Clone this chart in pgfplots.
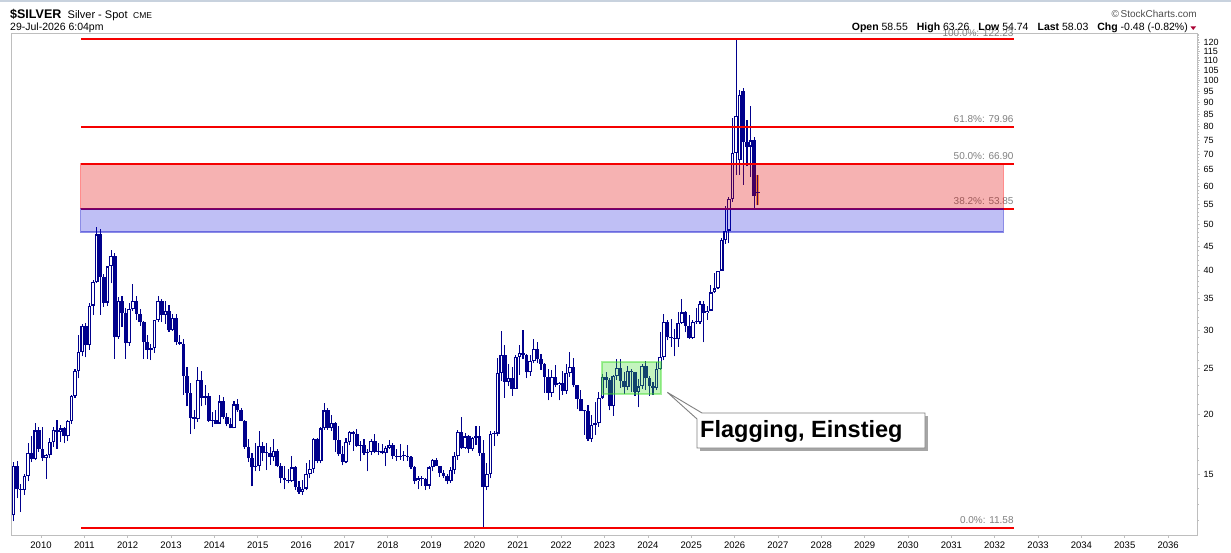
\documentclass[border=0pt]{standalone}
\usepackage{pgfplots}
\pgfplotsset{compat=1.18}
\usepackage{pgfplotstable}
\usepackage{fontspec}
\setmainfont{Liberation Sans}
\definecolor{cnavy}{RGB}{0,0,140}
\definecolor{fibred}{RGB}{245,0,0}
\definecolor{pinkfill}{RGB}{225,0,0}
\definecolor{bluefill}{RGB}{0,0,215}
\definecolor{bluedraw}{RGB}{0,0,200}
\definecolor{greenfill}{RGB}{60,220,40}
\definecolor{framegray}{RGB}{190,190,190}
\definecolor{labgray}{RGB}{128,128,128}
\definecolor{orangehl}{RGB}{255,160,40}
\definecolor{topborder}{RGB}{200,210,222}
\definecolor{tri}{RGB}{170,0,50}

\pgfplotstableread{
Y m o h l c
2009 5 12.30 15.90 11.95 15.61
2009 6 15.61 16.00 13.35 13.94
2009 7 13.94 14.30 12.50 13.92
2009 8 13.92 15.00 13.60 14.87
2009 9 14.87 17.45 14.50 16.64
2009 10 16.64 18.00 15.90 16.15
2009 11 16.15 19.18 16.05 18.53
2009 12 18.53 18.80 16.70 16.95
2010 1 16.95 18.85 16.00 16.20
2010 2 16.20 16.55 14.65 16.43
2010 3 16.43 17.88 16.20 17.53
2010 4 17.53 18.80 17.10 18.60
2010 5 18.60 19.50 16.95 18.40
2010 6 18.40 19.00 17.50 18.70
2010 7 18.70 18.85 17.40 18.00
2010 8 18.00 19.50 17.60 19.40
2010 9 19.40 21.95 19.15 21.90
2010 10 21.90 24.85 21.70 24.70
2010 11 24.70 29.30 23.80 27.00
2010 12 27.00 31.00 26.45 30.60
2011 1 30.60 31.05 26.35 27.95
2011 2 27.95 34.15 27.30 33.80
2011 3 33.80 38.20 32.30 37.90
2011 4 37.90 49.30 37.75 47.60
2011 5 47.60 48.80 32.35 38.80
2011 6 38.80 39.40 33.55 34.30
2011 7 34.30 40.70 33.70 40.80
2011 8 40.80 44.25 37.60 42.90
2011 9 42.90 43.45 26.15 29.00
2011 10 29.00 35.25 28.80 34.50
2011 11 34.50 35.40 30.50 32.60
2011 12 32.60 33.40 26.15 28.20
2012 1 28.20 34.15 27.85 33.20
2012 2 33.20 37.50 33.00 34.60
2012 3 34.60 35.35 31.60 32.50
2012 4 32.50 33.20 30.60 31.20
2012 5 31.20 31.45 26.10 28.35
2012 6 28.35 29.30 26.10 27.30
2012 7 27.30 28.15 26.00 27.60
2012 8 27.60 31.60 26.90 31.50
2012 9 31.50 35.40 31.20 34.60
2012 10 34.60 34.95 31.20 32.30
2012 11 32.30 34.50 31.00 33.00
2012 12 33.00 33.85 29.80 30.00
2013 1 30.00 32.50 29.90 31.80
2013 2 31.80 32.45 28.00 28.30
2013 3 28.30 29.30 28.00 28.10
2013 4 28.10 28.80 22.00 24.10
2013 5 24.10 25.10 20.80 22.20
2013 6 22.20 23.30 18.20 19.70
2013 7 19.70 20.40 18.65 19.60
2013 8 19.60 25.10 19.30 23.60
2013 9 23.60 24.70 20.80 21.70
2013 10 21.70 23.10 20.90 21.90
2013 11 21.90 22.20 19.30 19.40
2013 12 19.40 20.20 18.85 19.45
2014 1 19.45 20.40 19.10 19.15
2014 2 19.15 22.00 19.10 21.30
2014 3 21.30 21.80 19.55 19.75
2014 4 19.75 20.15 18.90 19.10
2014 5 19.10 19.70 18.70 18.70
2014 6 18.70 21.35 18.70 21.00
2014 7 21.00 21.60 20.25 20.40
2014 8 20.40 20.65 19.35 19.40
2014 9 19.40 19.50 16.95 17.10
2014 10 17.10 17.80 15.90 16.20
2014 11 16.20 16.60 14.15 15.50
2014 12 15.50 17.40 15.20 15.60
2015 1 15.60 18.50 15.25 17.20
2015 2 17.20 17.50 16.00 16.60
2015 3 16.60 17.40 15.30 16.60
2015 4 16.60 17.10 15.70 16.30
2015 5 16.30 17.80 16.00 16.80
2015 6 16.80 16.90 15.50 15.60
2015 7 15.60 15.80 14.35 14.70
2015 8 14.70 15.60 13.95 14.60
2015 9 14.60 15.40 14.35 14.50
2015 10 14.50 16.35 14.45 15.50
2015 11 15.50 15.60 13.90 14.10
2015 12 14.10 14.50 13.65 13.80
2016 1 13.80 14.60 13.60 14.00
2016 2 14.00 15.80 13.90 15.00
2016 3 15.00 16.05 14.70 15.40
2016 4 15.40 17.85 15.10 17.80
2016 5 17.80 17.85 15.80 16.00
2016 6 16.00 18.80 15.80 18.70
2016 7 18.70 21.15 18.60 20.40
2016 8 20.40 20.60 18.60 18.70
2016 9 18.70 20.00 18.50 19.20
2016 10 19.20 19.30 16.70 17.70
2016 11 17.70 18.90 16.40 16.50
2016 12 16.50 17.20 15.65 15.90
2017 1 15.90 17.90 15.80 17.50
2017 2 17.50 18.50 17.30 18.40
2017 3 18.40 18.50 16.80 18.20
2017 4 18.20 18.65 17.10 17.20
2017 5 17.20 17.60 15.95 17.30
2017 6 17.30 17.80 16.45 16.60
2017 7 16.60 16.90 15.20 16.70
2017 8 16.70 17.80 16.45 17.60
2017 9 17.60 18.20 16.60 16.70
2017 10 16.70 17.40 16.45 16.75
2017 11 16.75 17.35 16.50 16.60
2017 12 16.60 17.15 15.60 17.00
2018 1 17.00 17.70 16.90 17.30
2018 2 17.30 17.40 16.15 16.40
2018 3 16.40 16.90 16.00 16.30
2018 4 16.30 17.35 16.10 16.35
2018 5 16.35 16.75 16.00 16.40
2018 6 16.40 17.30 16.00 16.30
2018 7 16.30 16.40 15.35 15.50
2018 8 15.50 15.60 14.30 14.50
2018 9 14.50 14.85 13.95 14.70
2018 10 14.70 14.85 14.20 14.65
2018 11 14.65 14.75 13.90 14.20
2018 12 14.20 15.60 14.00 15.50
2019 1 15.50 16.15 15.20 16.10
2019 2 16.10 16.20 15.60 15.60
2019 3 15.60 15.60 14.80 15.10
2019 4 15.10 15.30 14.70 14.90
2019 5 14.90 15.00 14.30 14.50
2019 6 14.50 15.50 14.40 15.30
2019 7 15.30 16.70 15.00 16.40
2019 8 16.40 18.60 16.10 18.40
2019 9 18.40 19.75 16.90 17.00
2019 10 17.00 18.30 16.95 18.00
2019 11 18.00 18.10 16.60 16.90
2019 12 16.90 17.95 16.80 17.90
2020 1 17.90 18.90 17.30 18.00
2020 2 18.00 18.95 16.40 16.60
2020 3 16.60 17.70 11.58 14.10
2020 4 14.10 15.80 13.90 15.00
2020 5 15.00 18.50 14.70 18.20
2020 6 18.20 18.50 17.20 18.25
2020 7 18.25 26.20 18.00 24.40
2020 8 24.40 29.85 23.50 26.70
2020 9 26.70 28.00 21.70 23.40
2020 10 23.40 25.55 22.90 23.90
2020 11 23.90 25.20 21.90 22.60
2020 12 22.60 26.70 22.60 26.40
2021 1 26.40 27.90 24.20 26.90
2021 2 26.90 30.10 26.10 26.70
2021 3 26.70 26.80 23.80 24.50
2021 4 24.50 26.60 24.10 25.90
2021 5 25.90 28.75 25.60 27.40
2021 6 27.40 28.30 25.60 26.10
2021 7 26.10 26.80 24.80 25.50
2021 8 25.50 25.60 22.20 24.00
2021 9 24.00 24.90 21.40 22.20
2021 10 22.20 24.80 21.80 24.00
2021 11 24.00 25.40 22.80 23.00
2021 12 23.00 23.40 21.40 23.30
2022 1 23.30 24.70 22.00 22.40
2022 2 22.40 25.50 22.10 24.40
2022 3 24.40 27.00 24.00 25.10
2022 4 25.10 26.20 22.80 23.00
2022 5 23.00 23.00 20.50 21.60
2022 6 21.60 22.50 20.40 20.30
2022 7 20.30 20.40 18.15 20.35
2022 8 20.35 20.90 17.60 17.80
2022 9 17.80 20.00 17.55 19.00
2022 10 19.00 21.25 18.10 19.20
2022 11 19.20 22.25 18.85 21.70
2022 12 21.70 24.30 21.60 24.00
2023 1 24.00 24.55 22.75 23.60
2023 2 23.60 23.85 20.40 20.80
2023 3 20.80 24.20 19.90 24.10
2023 4 24.10 26.10 23.60 25.00
2023 5 25.00 26.15 22.70 23.50
2023 6 23.50 24.50 22.10 22.80
2023 7 22.80 25.25 22.50 24.70
2023 8 24.70 24.90 22.25 24.50
2023 9 24.50 24.60 21.90 22.30
2023 10 22.30 23.70 20.70 22.90
2023 11 22.90 25.50 22.60 25.30
2023 12 25.30 25.90 22.50 23.80
2024 1 23.80 24.10 21.90 22.90
2024 2 22.90 23.35 21.95 22.70
2024 3 22.70 25.80 22.50 24.90
2024 4 24.90 29.80 24.80 26.40
2024 5 26.40 32.50 26.00 31.30
2024 6 31.30 31.50 28.60 29.10
2024 7 29.10 31.75 27.70 28.90
2024 8 28.90 30.20 26.45 28.80
2024 9 28.80 32.70 27.70 31.10
2024 10 31.10 34.90 31.00 32.70
2024 11 32.70 33.00 29.70 30.60
2024 12 30.60 32.30 28.75 28.90
2025 1 28.90 31.60 28.80 31.30
2025 2 31.30 33.40 31.00 31.20
2025 3 31.20 34.60 30.90 34.10
2025 4 34.10 34.60 28.30 32.60
2025 5 32.60 33.70 31.60 33.00
2025 6 33.00 37.30 32.90 36.00
2025 7 36.00 39.50 35.90 36.70
2025 8 36.70 40.00 36.60 40.00
2025 9 40.00 46.90 40.00 46.40
2025 10 46.40 54.50 45.50 48.50
2025 11 48.50 57.00 45.60 56.40
2025 12 56.40 83.30 55.60 70.60
2026 1 70.60 121.50 63.40 84.20
2026 2 68.00 95.50 63.40 93.20
2026 3 95.00 96.40 60.50 74.40
2026 4 74.50 82.60 66.10 72.70
2026 5 72.70 88.30 62.80 74.90
2026 6 74.90 76.20 54.00 57.20
2026 7 58.55 63.26 54.74 58.03
}\silver

\begin{document}
\begin{tikzpicture}[x=1pt,y=1pt]
\useasboundingbox (0,0) rectangle (1231,552);
% top border
\draw[draw=topborder, line width=2pt] (0,551) -- (1231,551);
\begin{axis}[
  at={(11.7pt,17pt)}, anchor=south west,
  scale only axis, width=1185.3pt, height=502pt,
  xmin=2009.324, xmax=2036.667,
  ymode=log, ymin=11.194, ymax=125.64,
  clip mode=individual,
  axis line style={draw=framegray, line width=0.8pt},
  tick align=outside,
  major tick length=3pt, minor tick length=1.5pt,
  tick style={draw=framegray, line width=0.7pt},
  xtick pos=left, ytick pos=right,
  xtick={2010,2011,...,2036},
  minor x tick num=11,
  xticklabels={2010,2011,2012,2013,2014,2015,2016,2017,2018,2019,2020,2021,2022,2023,2024,2025,2026,2027,2028,2029,2030,2031,2032,2033,2034,2035,2036},
  ytick={15,20,25,30,35,40,45,50,55,60,65,70,75,80,85,90,95,100,105,110,115,120},
  yticklabels={15,20,25,30,35,40,45,50,55,60,65,70,75,80,85,90,95,100,105,110,115,120},
  minor ytick={12,13,...,125},
  yticklabel pos=right,
  xticklabel style={font=\fontsize{9.5}{10}\selectfont, text=black},
  yticklabel style={font=\fontsize{9}{10}\selectfont, text=black, anchor=west},
]
% last bar highlight
\fill[orangehl, fill opacity=0.8] (axis cs:2026.492,54.74) rectangle (axis cs:2026.572,63.26);
% wicks
\addplot[forget plot, draw=none, mark=none,
  error bars/.cd, y dir=plus, y explicit, error mark=none,
  error bar style={draw=cnavy, line width=1.1pt, solid}]
  table[x expr={\thisrow{Y}+(\thisrow{m}-1)/12+0.035}, y=l,
        y error plus expr={\thisrow{h}-\thisrow{l}}]{\silver};
% bodies
\addplot[forget plot, draw=none, mark=none,
  error bars/.cd, y dir=plus, y explicit, error mark=none,
  error bar style={draw=cnavy, line width=3.7pt, solid}]
  table[x expr={\thisrow{Y}+(\thisrow{m}-1)/12+0.035},
        y expr={min(\thisrow{o},\thisrow{c})},
        y error plus expr={max(abs(\thisrow{c}-\thisrow{o}),0.006*\thisrow{o})}]{\silver};
% hollow interiors (up candles)
\addplot[forget plot, draw=none, mark=none,
  error bars/.cd, y dir=plus, y explicit, error mark=none,
  error bar style={draw=white, line width=1.5pt, solid}]
  table[x expr={\thisrow{Y}+(\thisrow{m}-1)/12+0.035},
        y expr={\thisrow{o}*1.0055},
        y error plus expr={max(\thisrow{c}*0.9945-\thisrow{o}*1.0055,0)}]{\silver};

% level labels (under the zones)
\begin{scope}[every node/.style={anchor=base east, inner sep=0pt, text=labgray, font=\fontsize{10}{11}\selectfont}]
\node at (axis cs:2032.44,122.23) [yshift=2.7pt] {100.0\%: 122.23};
\node at (axis cs:2032.44,79.96) [yshift=4.3pt] {61.8\%: 79.96};
\node at (axis cs:2032.44,66.90) [yshift=4.3pt] {50.0\%: 66.90};
\node at (axis cs:2032.44,53.85) [yshift=4.3pt] {38.2\%: 53.85};
\node at (axis cs:2032.44,11.58) [yshift=4.3pt] {0.0\%: 11.58};
\end{scope}

% red zone
\filldraw[fill=pinkfill, fill opacity=0.30, draw=red, draw opacity=0.45, line width=1pt]
  (axis cs:2010.916,53.85) rectangle (axis cs:2032.198,66.90);
% Fibonacci lines
\begin{scope}[fibred, line width=1.8pt]
\draw (axis cs:2010.923,122.23) -- (axis cs:2032.438,122.23);
\draw (axis cs:2010.923,79.96) -- (axis cs:2032.438,79.96);
\draw (axis cs:2010.923,66.90) -- (axis cs:2032.438,66.90);
\draw (axis cs:2010.923,53.85) -- (axis cs:2032.438,53.85);
\draw (axis cs:2010.923,11.58) -- (axis cs:2032.438,11.58);
\end{scope}
% blue zone
\filldraw[fill=bluefill, fill opacity=0.25, draw=bluedraw, draw opacity=0.45, line width=1.3pt]
  (axis cs:2010.916,48.2) rectangle (axis cs:2032.198,53.85);
% green flag box
\filldraw[fill=greenfill, fill opacity=0.30, draw=greenfill, draw opacity=0.45, line width=1.5pt]
  (axis cs:2022.941,22.07) rectangle (axis cs:2024.302,25.75);
\end{axis}

% callout
\fill[black!35] (700,101) rectangle (928,136);
\filldraw[fill=white, draw=black!50, line width=0.9pt]
  (697,133) -- (667.3,159.7) -- (702,139) -- (925,139) -- (925,104) -- (697,104) -- cycle;
\node[anchor=base west, inner sep=0pt] at (700,114.7) {\fontsize{23.5}{26}\selectfont\bfseries Flagging, Einstieg};

% header left
\node[anchor=base west, inner sep=0pt] at (10,533) {\fontsize{12.5}{14}\selectfont\bfseries \$SILVER};
\node[anchor=base west, inner sep=0pt] at (67.5,533) {\fontsize{11}{13}\selectfont Silver - Spot};
\node[anchor=base west, inner sep=0pt] at (133,533) {\fontsize{8.5}{10}\selectfont CME};
\node[anchor=base west, inner sep=0pt] at (10,521.5) {\fontsize{10.5}{12}\selectfont 29-Jul-2026 6:04pm};
% header right
\node[anchor=base east, inner sep=0pt, text=black!70] at (1197,534.5) {\fontsize{10}{12}\selectfont \textcopyright\,StockCharts.com};
\node[anchor=base east, inner sep=0pt] at (1188,521.5) {\fontsize{10.5}{12}\selectfont \textbf{Open} 58.55\hspace{9pt}\textbf{High} 63.26\hspace{9pt}\textbf{Low} 54.74\hspace{9pt}\textbf{Last} 58.03\hspace{9pt}\textbf{Chg} -0.48 (-0.82\%)};
\fill[tri] (1190.5,525.5) -- (1196,525.5) -- (1193.2,522) -- cycle;
\end{tikzpicture}
\end{document}
